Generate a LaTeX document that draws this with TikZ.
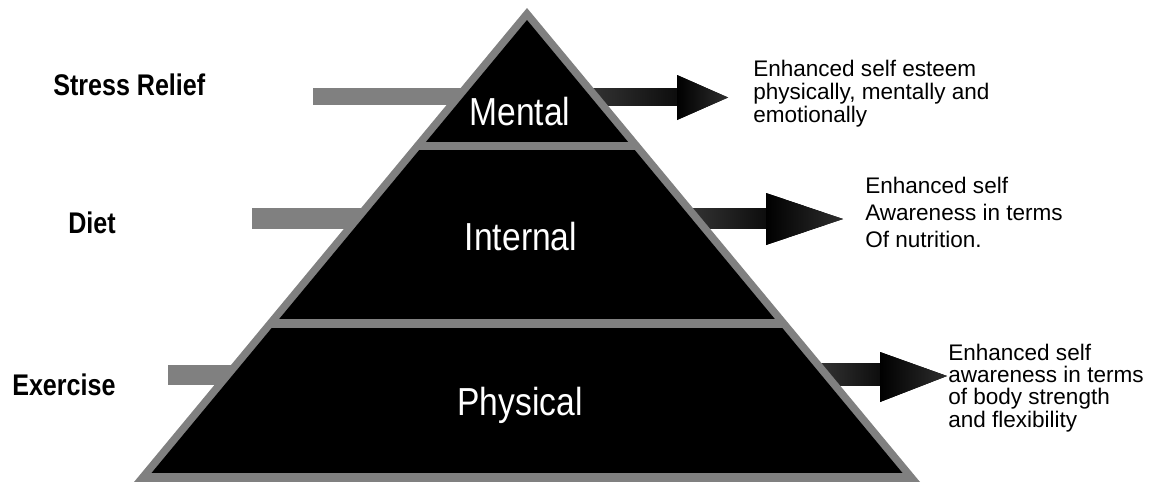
\documentclass[tikz,border=0pt]{standalone}
\usepackage{fontspec}
\setmainfont{Liberation Sans}
\newfontfamily\lblfont[FakeStretch=0.84]{Liberation Sans}
\newfontfamily\tierfont[FakeStretch=0.86]{Liberation Sans}
\definecolor{edgegray}{RGB}{128,128,128}
\tikzset{
  inbar/.style={fill=edgegray},
  outshaft/.style={left color=black!80, right color=black!95},
  outhead/.style={left color=black, right color=black!82},
  leftlbl/.style={font=\lblfont\bfseries\fontsize{22.4}{26}\selectfont, anchor=base west, inner sep=0pt},
  tierlbl/.style={font=\tierfont\fontsize{29.3}{34}\selectfont, text=white, anchor=base, inner sep=0pt},
  outlbl/.style={font=\fontsize{16.9}{#1}\selectfont, anchor=north west, inner sep=0pt, align=left},
}
\begin{document}
\begin{tikzpicture}[x=0.75pt,y=-0.75pt]
\useasboundingbox (0,0) rectangle (1157,482);
% input bars (behind pyramid)
\fill[inbar] (313,88) rectangle (470,105);
\fill[inbar] (252,208) rectangle (370,229);
\fill[inbar] (168,365) rectangle (240,385);
% output arrows (behind pyramid)
\fill[outshaft] (590,88) rectangle (678,105);
\fill[outhead] (677,75) -- (728,97.5) -- (677,120) -- cycle;
\fill[outshaft] (690,208) rectangle (767,228);
\fill[outhead] (766,193) -- (843,219) -- (766,245) -- cycle;
\fill[outshaft] (820,363) rectangle (881,385);
\fill[outhead] (880,352) -- (947,376) -- (880,402) -- cycle;
% pyramid
\fill[edgegray] (527,8) -- (920,482) -- (134,482) -- cycle;
\begin{scope}
  \clip (527,20) -- (902.5,473) -- (151.5,473) -- cycle;
  \fill[black] (100,0) rectangle (1000,142);
  \fill[black] (100,150) rectangle (1000,319);
  \fill[black] (100,328) rectangle (1000,473);
\end{scope}
% labels
\node[leftlbl] (stress) at (53,95) {Stress Relief};
\node[leftlbl] (diet) at (68,233) {Diet};
\node[leftlbl] (exercise) at (12,395) {Exercise};
\node[tierlbl] (mental) at (520,125) {Mental};
\node[tierlbl] (internal) at (521,250) {Internal};
\node[tierlbl] (physical) at (520,415) {Physical};
\node[outlbl=17.25] (esteem) at (753,60) {Enhanced self esteem\\physically, mentally and\\emotionally};
\node[outlbl=20.25] (nutrition) at (865,177) {Enhanced self\\Awareness in terms\\Of nutrition.};
\node[outlbl=16.6] (body) at (948,344) {Enhanced self\\awareness in terms\\of body strength\\and flexibility};
\end{tikzpicture}
\end{document}
